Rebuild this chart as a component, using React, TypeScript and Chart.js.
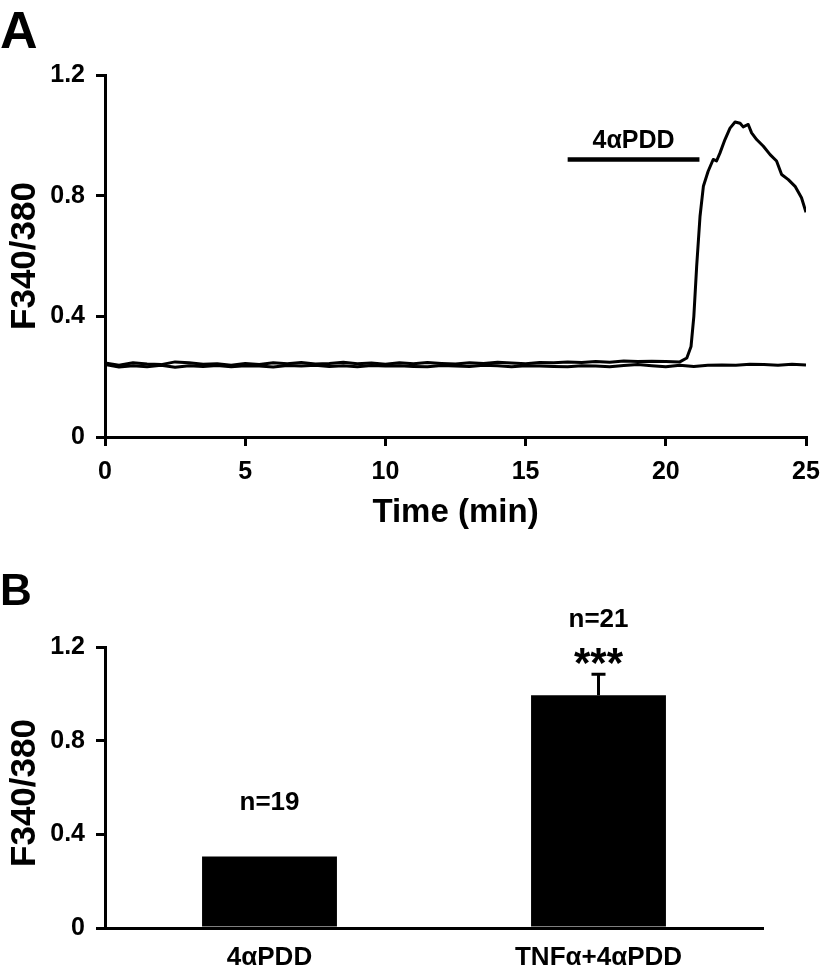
import React, { useEffect, useRef } from 'react';
import { Chart, registerables } from 'chart.js';

Chart.register(...registerables);

const FONT = '"Liberation Sans", Arial, Helvetica, sans-serif';

// ---------- Panel A data ----------
const timeTicks = [0, 5, 10, 15, 20, 25];
const ratioTicks = [0, 0.4, 0.8, 1.2];

const respTime = [
  0, 0.5, 1, 1.5, 2, 2.5, 3, 3.5, 4, 4.5, 5, 5.5, 6, 6.5, 7, 7.5, 8, 8.5, 9, 9.5,
  10, 10.5, 11, 11.5, 12, 12.5, 13, 13.5, 14, 14.5, 15, 15.5, 16, 16.5, 17, 17.5,
  18, 18.5, 19, 19.5, 20, 20.5, 20.75, 20.9, 21.0, 21.1, 21.22, 21.34, 21.51, 21.69,
  21.81, 21.93, 22.11, 22.29, 22.47, 22.65, 22.76, 22.94, 23.06, 23.24, 23.48, 23.72,
  23.95, 24.13, 24.37, 24.61, 24.84, 25,
];
const respValue = [
  0.245, 0.238, 0.246, 0.242, 0.240, 0.249, 0.246, 0.241, 0.243, 0.238, 0.244, 0.240,
  0.246, 0.243, 0.247, 0.242, 0.244, 0.248, 0.243, 0.245, 0.241, 0.246, 0.243, 0.247,
  0.244, 0.242, 0.246, 0.244, 0.248, 0.245, 0.243, 0.247, 0.246, 0.249, 0.247, 0.250,
  0.248, 0.252, 0.250, 0.251, 0.250, 0.249, 0.262, 0.300, 0.400, 0.565, 0.731, 0.831,
  0.881, 0.920, 0.915, 0.941, 0.986, 1.024, 1.044, 1.040, 1.028, 1.036, 1.008, 0.986,
  0.964, 0.936, 0.915, 0.870, 0.853, 0.831, 0.793, 0.745,
];

const ctrlTime = [
  0, 0.5, 1, 1.5, 2, 2.5, 3, 3.5, 4, 4.5, 5, 5.5, 6, 6.5, 7, 7.5, 8, 8.5, 9, 9.5,
  10, 10.5, 11, 11.5, 12, 12.5, 13, 13.5, 14, 14.5, 15, 15.5, 16, 16.5, 17, 17.5,
  18, 18.5, 19, 19.5, 20, 20.5, 21, 21.5, 22, 22.5, 23, 23.5, 24, 24.5, 25,
];
const ctrlValue = [
  0.240, 0.232, 0.236, 0.233, 0.238, 0.231, 0.236, 0.234, 0.237, 0.233, 0.236, 0.235,
  0.232, 0.237, 0.235, 0.238, 0.234, 0.236, 0.233, 0.237, 0.235, 0.236, 0.234, 0.233,
  0.237, 0.235, 0.234, 0.238, 0.236, 0.233, 0.236, 0.235, 0.234, 0.233, 0.236, 0.235,
  0.233, 0.237, 0.240, 0.236, 0.233, 0.238, 0.234, 0.238, 0.239, 0.238, 0.241, 0.240,
  0.238, 0.241, 0.239,
];

const stimulusLabel = '4αPDD';
const stimulusTime = [16.5, 21.2];
const stimulusLevel = [0.92, 0.92];

// ---------- Panel B data ----------
const categories = ['4αPDD', 'TNFα+4αPDD'];
const meanValues = [0.305, 0.994];
const semValues = [0, 0.09];
const nLabels = ['n=19', 'n=21'];
const sigLabels = ['', '***'];

const W = 825;
const HA = 560;
const HB = 415;

const tickFont = { family: FONT, size: 25, weight: 'bold' as const };

function panelAPlugin() {
  return {
    id: 'panelA',
    afterDraw(chart: any) {
      const ctx = chart.ctx;
      const xs = chart.scales.x;
      const ys = chart.scales.y;
      const area = chart.chartArea;
      ctx.save();
      ctx.fillStyle = '#000';
      ctx.textBaseline = 'alphabetic';
      ctx.textAlign = 'left';
      ctx.font = `bold 52px ${FONT}`;
      ctx.fillText('A', 0, 48);

      ctx.textAlign = 'center';
      ctx.font = `bold 25px ${FONT}`;
      const sx = xs.getPixelForValue((stimulusTime[0] + stimulusTime[1]) / 2);
      const sy = ys.getPixelForValue(stimulusLevel[0]);
      ctx.fillText(stimulusLabel, sx, sy - 11);

      ctx.font = `bold 33px ${FONT}`;
      ctx.fillText('Time (min)', (area.left + area.right) / 2, 522);

      ctx.translate(35, (area.top + area.bottom) / 2);
      ctx.rotate(-Math.PI / 2);
      ctx.font = `bold 35px ${FONT}`;
      ctx.fillText('F340/380', 0, 0);
      ctx.restore();
    },
  };
}

function panelBPlugin() {
  return {
    id: 'panelB',
    afterDatasetsDraw(chart: any) {
      const ctx = chart.ctx;
      const ys = chart.scales.y;
      const meta = chart.getDatasetMeta(0);
      ctx.save();
      ctx.strokeStyle = '#000';
      ctx.fillStyle = '#000';
      ctx.lineWidth = 3;
      meta.data.forEach((bar: any, i: number) => {
        const err = semValues[i];
        let top = bar.y;
        if (err) {
          const yTop = ys.getPixelForValue(meanValues[i] + err);
          ctx.beginPath();
          ctx.moveTo(bar.x, bar.y);
          ctx.lineTo(bar.x, yTop);
          ctx.moveTo(bar.x - 7, yTop);
          ctx.lineTo(bar.x + 7, yTop);
          ctx.stroke();
          top = yTop;
        }
        ctx.textAlign = 'center';
        ctx.textBaseline = 'alphabetic';
        ctx.font = `bold 26px ${FONT}`;
        ctx.fillText(nLabels[i], bar.x, top - 47);
        if (sigLabels[i]) {
          ctx.font = `bold 42px ${FONT}`;
          ctx.fillText(sigLabels[i], bar.x, top + 3);
        }
      });
      ctx.restore();
    },
    afterDraw(chart: any) {
      const ctx = chart.ctx;
      ctx.save();
      ctx.fillStyle = '#000';
      ctx.textBaseline = 'alphabetic';
      ctx.textAlign = 'left';
      ctx.font = `bold 44px ${FONT}`;
      ctx.fillText('B', 0, 45);
      ctx.textAlign = 'center';
      ctx.translate(35, 233);
      ctx.rotate(-Math.PI / 2);
      ctx.font = `bold 35px ${FONT}`;
      ctx.fillText('F340/380', 0, 0);
      ctx.restore();
    },
  };
}

export default function App() {
  const refA = useRef<HTMLCanvasElement>(null);
  const refB = useRef<HTMLCanvasElement>(null);

  useEffect(() => {
    document.body.style.margin = '0';
    const lineStyle = {
      borderColor: '#000',
      borderWidth: 3,
      pointRadius: 0,
      tension: 0,
      fill: false,
      borderJoinStyle: 'round' as const,
    };
    const axisGrid = { drawOnChartArea: false, drawTicks: true, tickLength: 9, color: '#000', lineWidth: 3 };
    const axisBorder = { display: true, color: '#000', width: 3 };
    const fitX = (h: number) => (s: any) => {
      s.height = h;
      s.paddingLeft = 0;
      s.paddingRight = 0;
    };
    const fitY = (s: any) => {
      s.width = 105;
      s.paddingTop = 0;
      s.paddingBottom = 0;
    };
    const chartA = new Chart(refA.current!, {
      type: 'line',
      data: {
        datasets: [
          { ...lineStyle, data: ctrlTime.map((t, i) => ({ x: t, y: ctrlValue[i] })) },
          { ...lineStyle, data: respTime.map((t, i) => ({ x: t, y: respValue[i] })) },
          {
            ...lineStyle,
            borderWidth: 4.5,
            borderCapStyle: 'butt' as const,
            data: stimulusTime.map((t, i) => ({ x: t, y: stimulusLevel[i] })),
          },
        ],
      },
      options: {
        animation: false,
        responsive: false,
        layout: { padding: { left: 0, top: 75, right: 19, bottom: 0 } },
        plugins: { legend: { display: false }, tooltip: { enabled: false } },
        scales: {
          x: {
            type: 'linear',
            min: 0,
            max: 25,
            afterBuildTicks: (s: any) => {
              s.ticks = timeTicks.map((v) => ({ value: v }));
            },
            afterFit: fitX(HA - 437),
            grid: axisGrid,
            border: axisBorder,
            ticks: { color: '#000', font: tickFont, padding: 11, maxRotation: 0, callback: (v: any) => String(v) },
          },
          y: {
            type: 'linear',
            min: 0,
            max: 1.2,
            afterBuildTicks: (s: any) => {
              s.ticks = ratioTicks.map((v) => ({ value: v }));
            },
            afterFit: fitY,
            grid: axisGrid,
            border: axisBorder,
            ticks: { color: '#000', font: tickFont, padding: 11, callback: (v: any) => String(v) },
          },
        },
      },
      plugins: [panelAPlugin()],
    } as any);

    const chartB = new Chart(refB.current!, {
      type: 'bar',
      data: {
        labels: categories,
        datasets: [
          {
            data: meanValues,
            backgroundColor: '#000',
            borderWidth: 0,
            categoryPercentage: 1,
            barPercentage: 0.41,
          },
        ],
      },
      options: {
        animation: false,
        responsive: false,
        layout: { padding: { left: 0, top: 87, right: 62, bottom: 0 } },
        plugins: { legend: { display: false }, tooltip: { enabled: false } },
        scales: {
          x: {
            afterFit: fitX(HB - 368),
            grid: { display: false, drawTicks: false },
            border: axisBorder,
            ticks: { color: '#000', font: { family: FONT, size: 26, weight: 'bold' }, padding: 14, maxRotation: 0 },
          },
          y: {
            type: 'linear',
            min: 0,
            max: 1.2,
            afterBuildTicks: (s: any) => {
              s.ticks = ratioTicks.map((v) => ({ value: v }));
            },
            afterFit: fitY,
            grid: axisGrid,
            border: axisBorder,
            ticks: { color: '#000', font: tickFont, padding: 11, callback: (v: any) => String(v) },
          },
        },
      },
      plugins: [panelBPlugin()],
    } as any);

    return () => {
      chartA.destroy();
      chartB.destroy();
    };
  }, []);

  return (
    <div style={{ position: 'absolute', left: 0, top: 0, width: W, height: HA + HB, background: '#fff' }}>
      <canvas ref={refA} width={W} height={HA} style={{ position: 'absolute', left: 0, top: 0, display: 'block' }} />
      <canvas ref={refB} width={W} height={HB} style={{ position: 'absolute', left: 0, top: HA, display: 'block' }} />
    </div>
  );
}
